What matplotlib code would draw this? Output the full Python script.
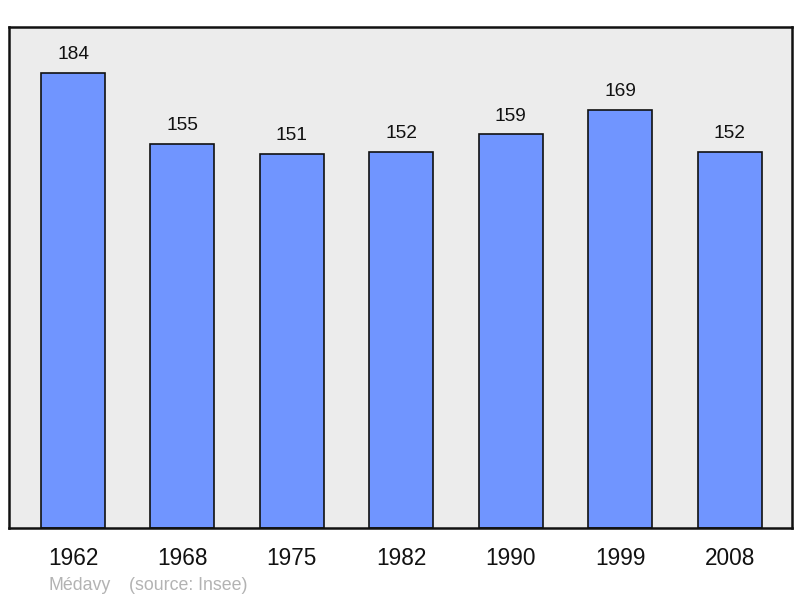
import matplotlib
matplotlib.use("Agg")
import matplotlib.pyplot as plt

plt.rcParams['font.family'] = ['Liberation Sans', 'DejaVu Sans']

years = ["1962", "1968", "1975", "1982", "1990", "1999", "2008"]
population = [184, 155, 151, 152, 159, 169, 152]
commune = "Médavy"
source = "(source: Insee)"

fig = plt.figure(figsize=(8.0, 5.98), dpi=100)
ax = fig.add_axes([9/800, (598-528)/598, (792-9)/800, (528-27)/598])
ax.set_facecolor('#ececec')

x = list(range(len(years)))
bars = ax.bar(x, population, width=0.585, color='#7095ff', edgecolor='#111111', linewidth=1.2, zorder=2)
for xi, v in zip(x, population):
    ax.annotate(str(v), (xi, v), xytext=(0, 10), textcoords='offset points',
                ha='center', va='baseline', fontsize=13.8, color='#111111')

ax.set_xlim(-0.585, 6.57)
ax.set_ylim(0, max(population) * 1.1)
ax.set_yticks([])
ax.set_xticks(x)
ax.set_xticklabels(years, fontsize=16.3)
ax.tick_params(axis='x', length=0, pad=13.5, colors='#111111')
for s in ax.spines.values():
    s.set_linewidth(1.8)
    s.set_color('#111111')

fig.text(49/800, 1 - 590/598, commune, fontsize=12.8, color='#b3b3b3', va='baseline')
fig.text(129/800, 1 - 590/598, source, fontsize=12.8, color='#b3b3b3', va='baseline')

fig.savefig('out.png', dpi=100)
